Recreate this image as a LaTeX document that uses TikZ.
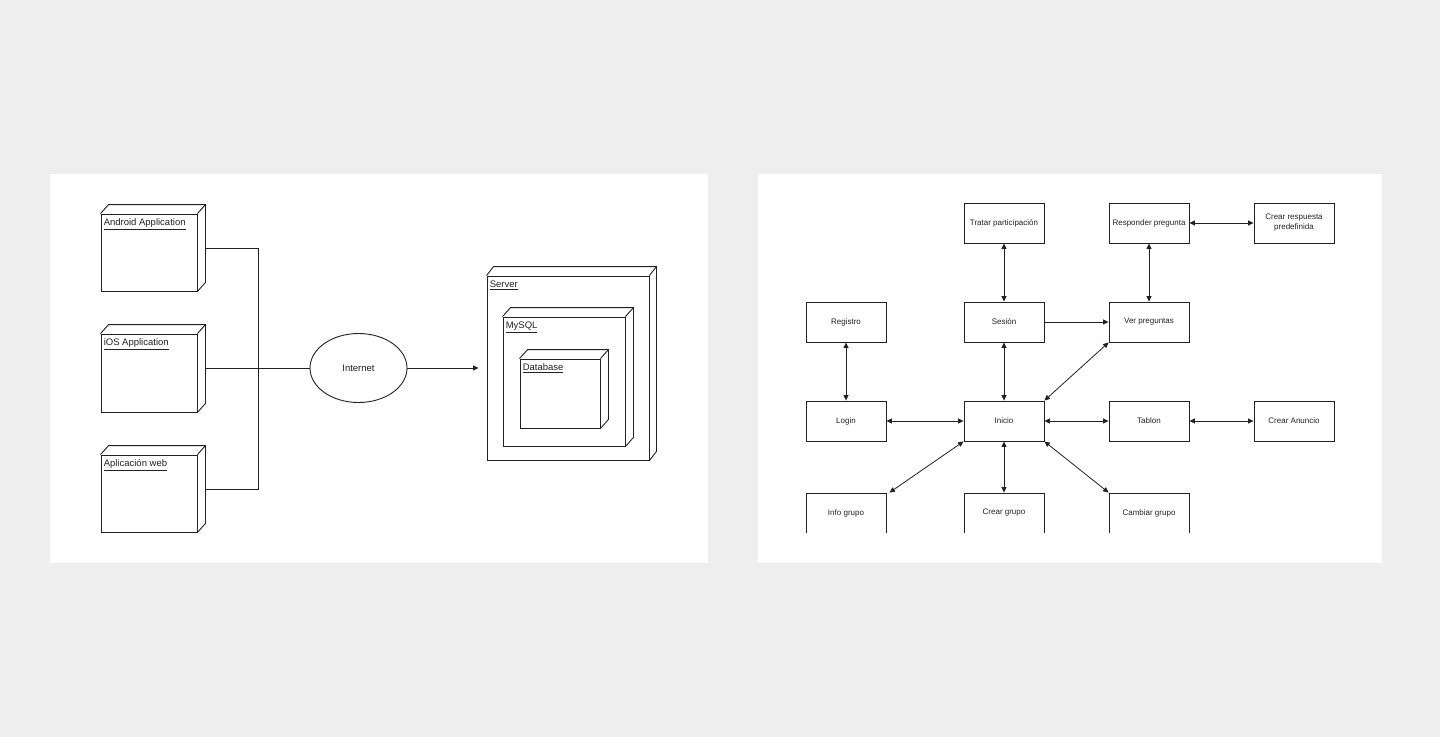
\documentclass[tikz,border=0pt]{standalone}
\usepackage{fontspec}
\setmainfont{Liberation Sans}
\usetikzlibrary{arrows.meta,calc,shapes.geometric}
\definecolor{bg}{HTML}{EEEEEE}
\definecolor{ink}{HTML}{222222}
\newcommand{\cubedeco}[3]{%
  \draw[line width=0.9pt, draw=ink, line join=miter] (#1.north west) -- ++(#2,-#3) -- ($(#1.north east)+(#2,-#3)$) -- ($(#1.south east)+(#2,-#3)$) -- (#1.south east);
  \draw[line width=0.9pt, draw=ink] (#1.north east) -- ++(#2,-#3);}
\begin{document}
\begin{tikzpicture}[x=1pt,y=-1pt,
  line/.style={draw=ink, line width=0.9pt},
  cubeface/.style={draw=ink, line width=0.9pt, fill=white, rectangle, inner sep=0pt},
  cubelabel/.style={anchor=north west, inner sep=0pt, text=ink, font=\fontsize{9.5}{11}\selectfont},
  box/.style={draw=ink, line width=0.9pt, fill=white, minimum width=80pt, minimum height=40pt, inner sep=0pt, text=ink, font=\fontsize{8}{10}\selectfont, align=center},
  dbl/.style={draw=ink, line width=0.8pt, {Triangle[length=5.5pt,width=5pt]}-{Triangle[length=5.5pt,width=5pt]}},
  sgl/.style={draw=ink, line width=0.8pt, -{Triangle[length=5.5pt,width=5pt]}},
]
\useasboundingbox[fill=bg] (0,0) rectangle (1440,737);
\fill[white] (50,174) rectangle (708,563);
\fill[white] (758,174) rectangle (1382,563);

% ---------- left panel ----------
\node[cubeface, minimum width=96pt, minimum height=77pt] (android) at (149,252.5) {};
\cubedeco{android}{8}{9}
\node[cubelabel] (androidlbl) at ($(android.north west)+(3,5)$) {\underline{Android Application}};

\node[cubeface, minimum width=96pt, minimum height=78pt] (ios) at (149,373) {};
\cubedeco{ios}{8}{9}
\node[cubelabel] (ioslbl) at ($(ios.north west)+(3,5)$) {\underline{iOS Application}};

\node[cubeface, minimum width=96pt, minimum height=77pt] (web) at (149,493.5) {};
\cubedeco{web}{8}{9}
\node[cubelabel] (weblbl) at ($(web.north west)+(3,5)$) {\underline{Aplicación web}};

\node[ellipse, draw=ink, line width=0.9pt, fill=white, minimum width=97pt, minimum height=69pt, inner sep=0pt, text=ink, font=\fontsize{9.5}{11}\selectfont] (internet) at (358.5,368) {Internet};

\coordinate (j1) at (258,248);
\coordinate (j2) at (258,489);
\draw[line] ($(android.east)+(8,-4.5)$) -- (j1) -- (j2) -- ($(web.east)+(8,-4.5)$);
\draw[line] ($(ios.east)+(8,-5)$) -- (internet.west);

\node[cubeface, minimum width=162pt, minimum height=184pt] (server) at (568,368) {};
\cubedeco{server}{7}{9}
\node[cubelabel] (serverlbl) at ($(server.north west)+(3,5.5)$) {\underline{Server}};

\node[cubeface, minimum width=122pt, minimum height=129pt] (mysql) at (564,381.5) {};
\cubedeco{mysql}{8}{9}
\node[cubelabel] (mysqllbl) at ($(mysql.north west)+(3,5)$) {\underline{MySQL}};

\node[cubeface, minimum width=80pt, minimum height=69pt] (db) at (560,393.5) {};
\cubedeco{db}{8}{9}
\node[cubelabel] (dblbl) at ($(db.north west)+(3,5)$) {\underline{Database}};

\coordinate (srvin) at ($(server.west)+(-8,0)$);
\draw[sgl] (internet.east) -- (srvin);

% ---------- right panel ----------
\node[box] (trat) at (1004,223) {Tratar participación};
\node[box] (resp) at (1149,223) {Responder pregunta};
\node[box] (crres) at (1294,223) {Crear respuesta\\predefinida};
\node[box] (reg) at (846,322) {Registro};
\node[box] (ses) at (1004,322) {Sesión};
\node[box] (ver) at (1149,322) {Ver preguntas};
\node[box] (login) at (846,421) {Login};
\node[box] (inicio) at (1004,421) {Inicio};
\node[box] (tablon) at (1149,421) {Tablon};
\node[box] (cran) at (1294,421) {Crear Anuncio};
\begin{scope}
  \clip (700,170) rectangle (1400,532.3);
  \node[box] (info) at (846,513) {Info grupo};
  \node[box] (crgr) at (1004,513) {Crear grupo};
  \node[box] (camb) at (1149,513) {Cambiar grupo};
\end{scope}

\draw[dbl] (trat.south) -- (ses.north);
\draw[dbl] (resp.south) -- (ver.north);
\draw[dbl] (resp.east) -- (crres.west);
\draw[sgl] (ses.east) -- (ver.west);
\draw[dbl] (reg.south) -- (login.north);
\draw[dbl] (ses.south) -- (inicio.north);
\draw[dbl] (inicio.north east) -- (ver.south west);
\draw[dbl] (login.east) -- (inicio.west);
\draw[dbl] (inicio.east) -- (tablon.west);
\draw[dbl] (tablon.east) -- (cran.west);
\draw[dbl] (inicio.south west) -- ($(info.north east)+(3,0)$);
\draw[dbl] (inicio.south) -- (crgr.north);
\draw[dbl] (inicio.south east) -- (camb.north west);
\end{tikzpicture}
\end{document}
